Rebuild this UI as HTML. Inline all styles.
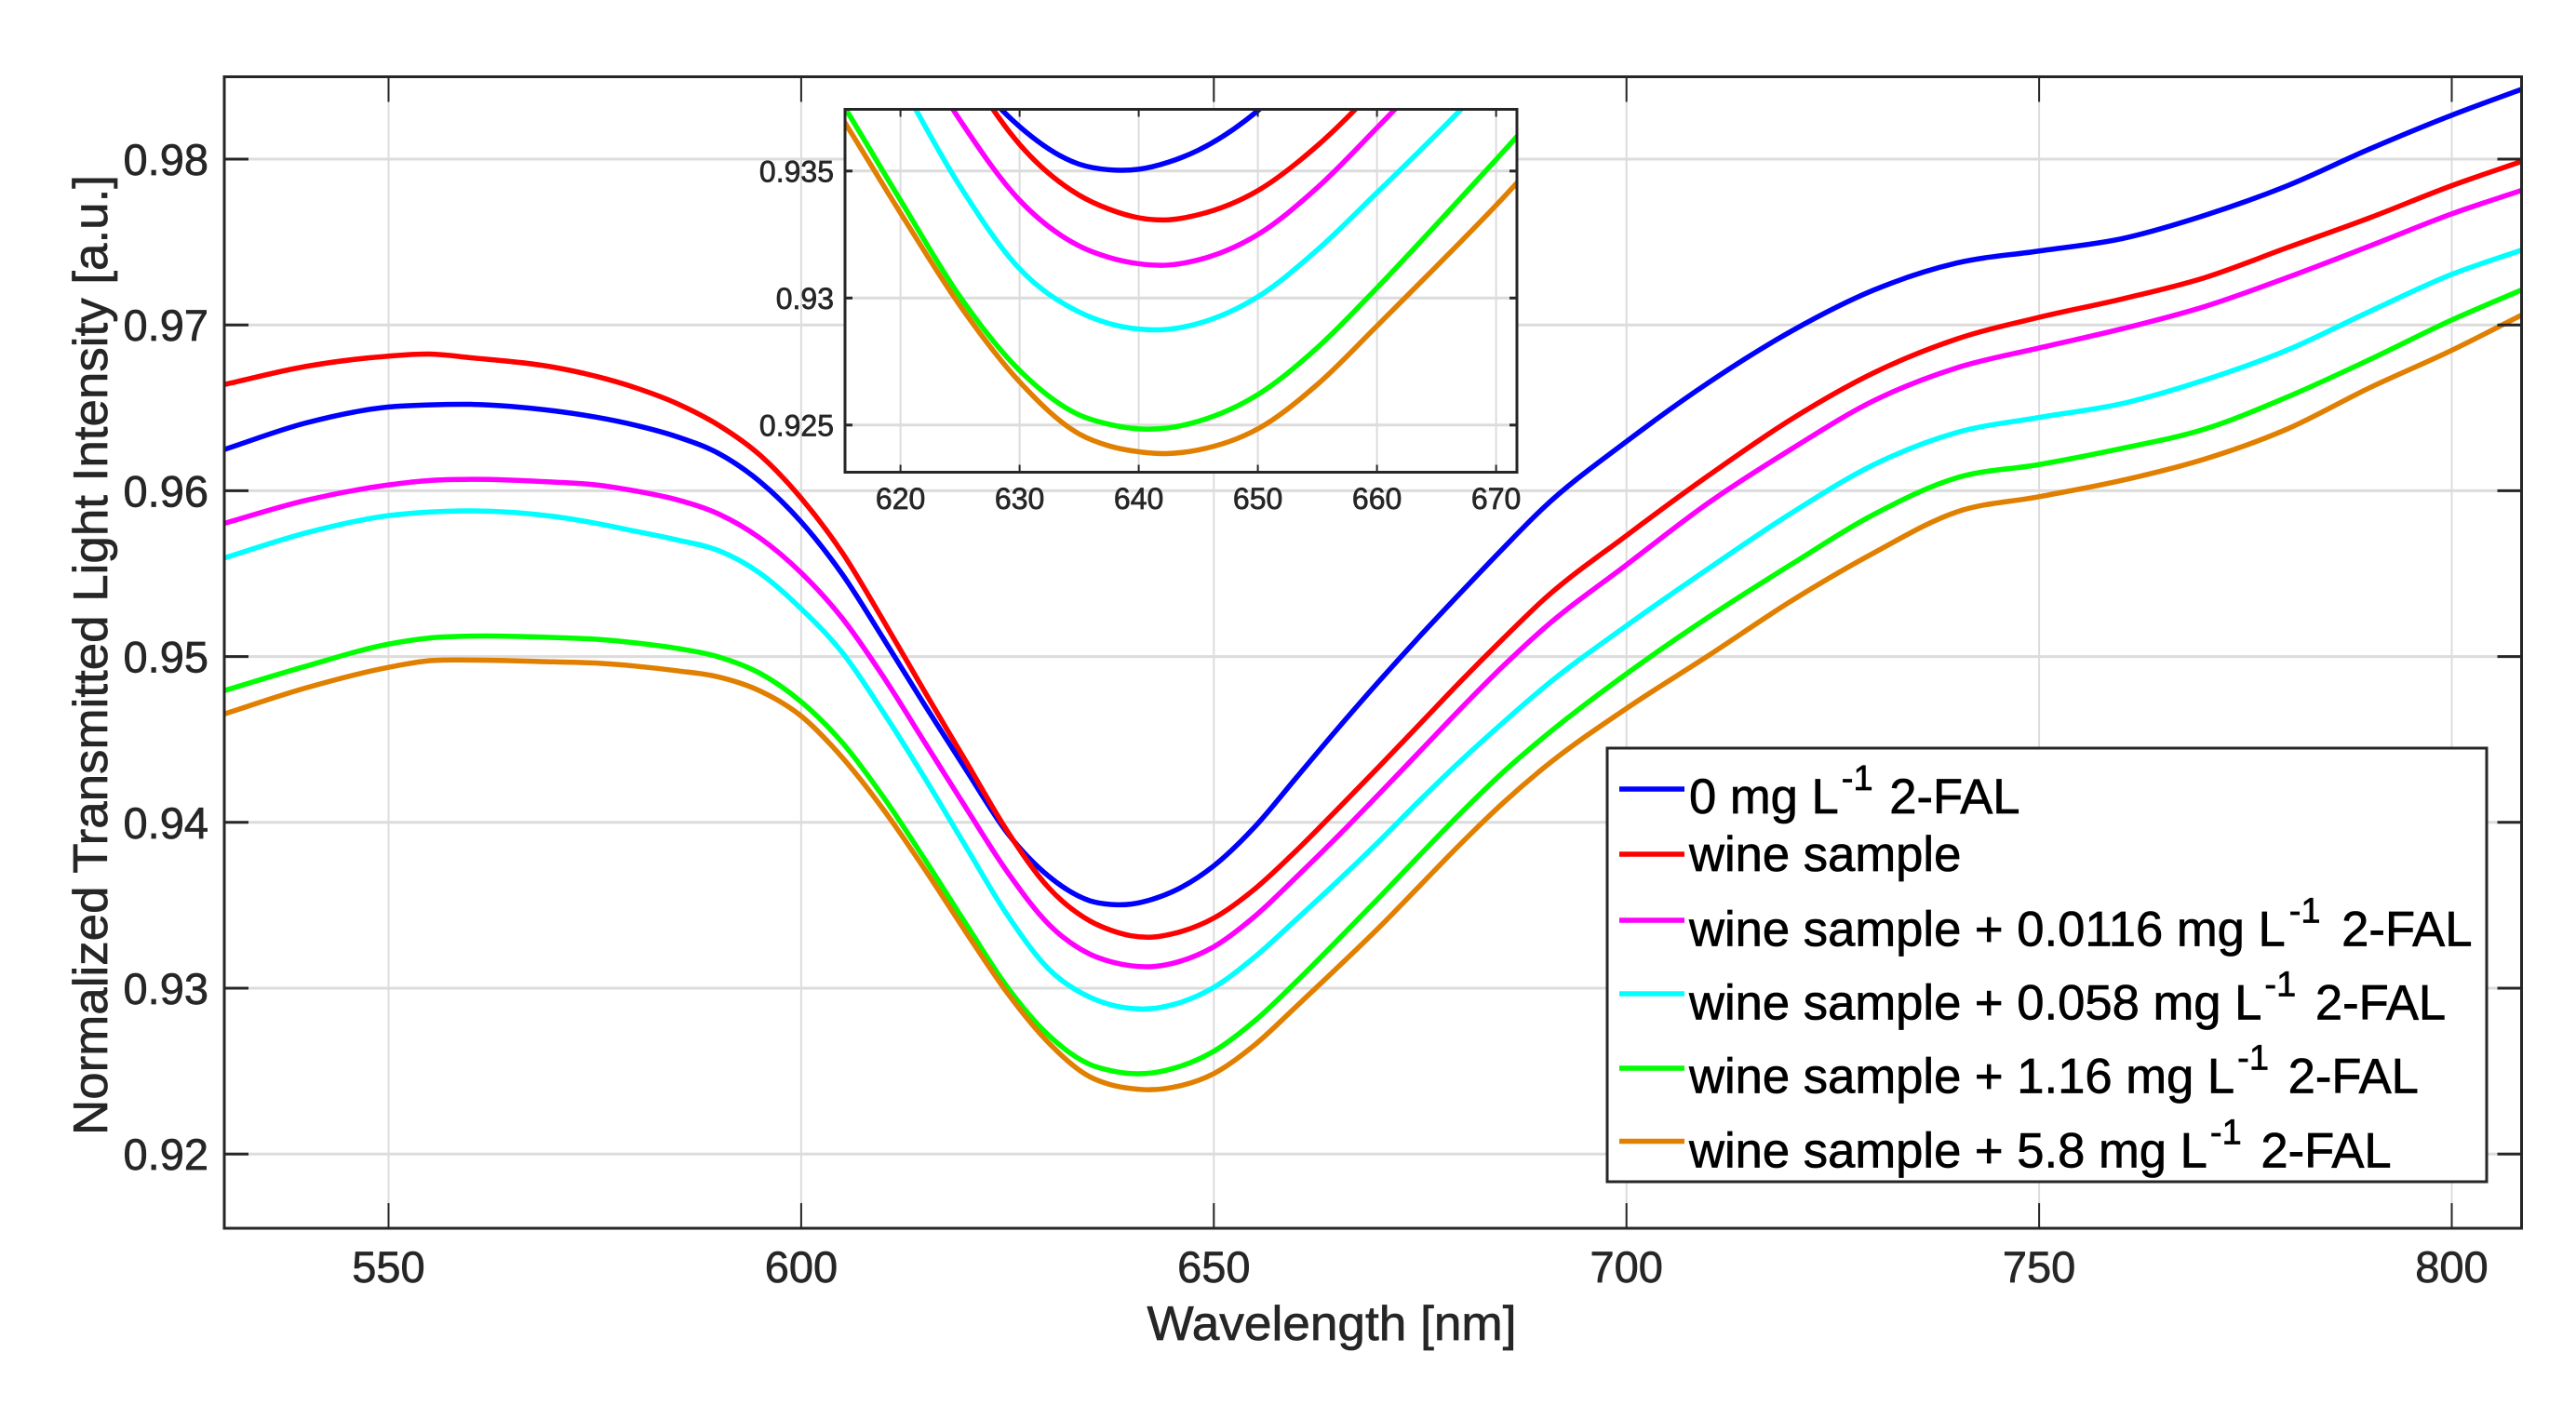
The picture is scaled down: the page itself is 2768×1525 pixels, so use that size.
<!DOCTYPE html>
<html lang="en">
<head>
<meta charset="utf-8">
<title>Normalized transmitted light intensity vs wavelength</title>
<style>
html,body{margin:0;padding:0;background:#fff;}
svg{display:block;font-family:"Liberation Sans",sans-serif;}
text{stroke:#262626;stroke-width:.7;}
.legend-text text{stroke:#000;}
</style>
</head>
<body>
<svg id="chart" xmlns="http://www.w3.org/2000/svg" width="2768" height="1525" viewBox="0 0 2768 1525">
  <defs>
    <clipPath id="main-clip"><rect x="241" y="82.5" width="2468.5" height="1237.5"/></clipPath>
    <clipPath id="inset-clip"><rect x="908" y="117.5" width="722" height="390"/></clipPath>
  </defs>
  <rect x="0" y="0" width="2768" height="1525" fill="#fff"/>
  <g id="main-grid"></g>
  <g id="main-series" clip-path="url(#main-clip)"></g>
  <g id="main-axes"></g>
  <text x="1431" y="1440" text-anchor="middle" font-size="52" fill="#262626" textLength="397" lengthAdjust="spacingAndGlyphs">Wavelength [nm]</text>
  <text transform="translate(115,704) rotate(-90)" text-anchor="middle" font-size="52" fill="#262626" textLength="1032" lengthAdjust="spacingAndGlyphs">Normalized Transmitted Light Intensity [a.u.]</text>

  <g>
    <rect x="908" y="117.5" width="722" height="390" fill="#fff"/>
    <g id="inset-grid"></g>
    <g id="inset-series" clip-path="url(#inset-clip)"></g>
    <g id="inset-axes"></g>
  </g>

  <g>
    <rect x="1727" y="804" width="945" height="466" fill="#fff" stroke="#262626" stroke-width="3"/>
    <line x1="1740" x2="1810" y1="848" y2="848" stroke="#0000ff" stroke-width="5.5"/>
    <line x1="1740" x2="1810" y1="918" y2="918" stroke="#ff0000" stroke-width="5.5"/>
    <line x1="1740" x2="1810" y1="989" y2="989" stroke="#ff00ff" stroke-width="5.5"/>
    <line x1="1740" x2="1810" y1="1068" y2="1068" stroke="#00ffff" stroke-width="5.5"/>
    <line x1="1740" x2="1810" y1="1148" y2="1148" stroke="#00ff00" stroke-width="5.5"/>
    <line x1="1740" x2="1810" y1="1226.5" y2="1226.5" stroke="#e07f00" stroke-width="5.5"/>
    <g class="legend-text" font-size="52.6" fill="#000">
      <text x="1815" y="874">0 mg L<tspan dx="3" dy="-25" font-size="38">-1</tspan><tspan dx="3" dy="25"> 2-FAL</tspan></text>
      <text x="1815" y="936">wine sample</text>
      <text x="1815" y="1016.5">wine sample + 0.0116 mg L<tspan dx="4" dy="-25" font-size="38">-1</tspan><tspan dx="8" dy="25"> 2-FAL</tspan></text>
      <text x="1815" y="1095.5">wine sample + 0.058 mg L<tspan dx="3" dy="-25" font-size="38">-1</tspan><tspan dx="6" dy="25"> 2-FAL</tspan></text>
      <text x="1815" y="1174.5">wine sample + 1.16 mg L<tspan dx="3" dy="-25" font-size="38">-1</tspan><tspan dx="6" dy="25"> 2-FAL</tspan></text>
      <text x="1815" y="1254.5">wine sample + 5.8 mg L<tspan dx="3" dy="-25" font-size="38">-1</tspan><tspan dx="6" dy="25"> 2-FAL</tspan></text>
    </g>
  </g>
</svg>
<script>
const wavelengths = [530,540,550,555,560,570,575,580,585,590,595,600,605,610,615,620,625,630,635,637.5,640,642.5,645,650,655,660,665,670,675,680,685,690,700,710,720,730,740,750,760,770,780,790,800,808.5];
const blueValues = [.96247,.96409,.96505,.96518,.96521,.96482,.96445,.96394,.96325,.96225,.96055,.95812,.95495,.95105,.94705,.94315,.93935,.93675,.93527,.93505,.93507,.93535,.93582,.93738,.93975,.9427,.94565,.9485,.95125,.9539,.9565,.959,.96297,.96654,.96963,.97211,.97373,.97446,.9752,.9766,.97838,.9806,.98265,.98422];
const redValues = [.96639,.9675,.96812,.96824,.96802,.96745,.96692,.9662,.96525,.96395,.96215,.95955,.95625,.95213,.94785,.94365,.93945,.93605,.93405,.9335,.93316,.93308,.93328,.93423,.936,.9383,.9408,.94335,.94595,.94855,.95105,.95345,.9573,.96094,.96432,.96712,.96915,.97046,.97156,.97284,.97465,.97645,.9784,.97987];
const magentaValues = [.95802,.95942,.96035,.96062,.96069,.96052,.96036,.95998,.95945,.9586,.95715,.95505,.9523,.94875,.9448,.94085,.937,.93385,.93205,.9316,.93135,.9313,.9315,.9325,.93435,.9367,.93915,.9417,.9443,.9469,.9494,.9517,.95553,.95929,.96252,.96544,.96741,.96861,.96976,.9711,.97285,.97475,.9767,.97812];
const cyanValues = [.95593,.95746,.9585,.95872,.95879,.95845,.95805,.95755,.95703,.95639,.95503,.95288,.95023,.9466,.94265,.9385,.9344,.93115,.92945,.929,.92878,.92877,.929,.93005,.9319,.93415,.93645,.93885,.94135,.94375,.946,.94815,.95186,.95533,.95866,.96158,.96351,.96442,.96525,.96667,.96847,.9708,.97305,.97452];
const greenValues = [.94793,.94942,.95075,.95112,.95123,.95115,.95105,.95082,.95049,.94998,.94899,.94727,.9448,.9415,.93775,.93385,.93005,.92715,.9254,.92503,.92485,.92489,.92515,.9262,.92805,.9304,.9329,.93545,.93805,.9406,.943,.94515,.94896,.9524,.95557,.95858,.96078,.96158,.96255,.96371,.96564,.9679,.9703,.97212];
const orangeValues = [.94652,.94811,.94935,.94975,.94979,.94968,.94961,.94942,.94914,.94877,.94793,.94641,.9439,.94075,.93715,.93335,.9297,.9267,.92465,.92418,.92395,.92388,.92402,.92485,.9266,.9289,.93125,.93365,.9362,.93875,.94115,.9433,.94687,.95008,.95336,.95626,.95872,.95964,.96062,.9619,.96371,.9662,.96847,.9706];
const seriesNames = ['0-mg','wine-sample','wine-0-0116','wine-0-058','wine-1-16','wine-5-8'];
const mainXTicks = [550,600,650,700,750,800];
const mainYTicks = [0.92,0.93,0.94,0.95,0.96,0.97,0.98];
const mainYLabels = ['0.92','0.93','0.94','0.95','0.96','0.97','0.98'];
const insetXTicks = [620,630,640,650,660,670];
const insetYTicks = [0.925,0.93,0.935];
const insetYLabels = ['0.925','0.93','0.935'];

const seriesValues = [blueValues, redValues, magentaValues, cyanValues, greenValues, orangeValues];
const seriesColors = ['#0000ff','#ff0000','#ff00ff','#00ffff','#00ff00','#e07f00'];
const NS = 'http://www.w3.org/2000/svg';

function mainX(w){ return 417.5 + (w - 550) * 8.868; }
function mainY(v){ return 171 + (0.98 - v) * 17820; }
function insetX(w){ return 1223.6 + (w - 640) * 12.8; }
function insetY(v){ return 320.3 + (0.93 - v) * 27300; }

function make(parent, tag, attrs, text){
  const el = document.createElementNS(NS, tag);
  for (const k in attrs) el.setAttribute(k, attrs[k]);
  if (text !== undefined) el.textContent = text;
  parent.appendChild(el);
  return el;
}

function curvePath(xs, ys, fx, fy){
  const n = xs.length;
  const px = xs.map(fx), py = ys.map(fy);
  const m = [];
  for (let i = 0; i < n; i++){
    if (i === 0) m.push((py[1]-py[0])/(px[1]-px[0]));
    else if (i === n-1) m.push((py[n-1]-py[n-2])/(px[n-1]-px[n-2]));
    else {
      const h0 = px[i]-px[i-1], h1 = px[i+1]-px[i];
      const d0 = (py[i]-py[i-1])/h0, d1 = (py[i+1]-py[i])/h1;
      m.push((d0*h1 + d1*h0)/(h0+h1));
    }
  }
  let d = 'M' + px[0].toFixed(2) + ' ' + py[0].toFixed(2);
  for (let i = 0; i < n-1; i++){
    const h = (px[i+1]-px[i])/3;
    d += ' C' + (px[i]+h).toFixed(2) + ' ' + (py[i]+m[i]*h).toFixed(2) + ' ' +
         (px[i+1]-h).toFixed(2) + ' ' + (py[i+1]-m[i+1]*h).toFixed(2) + ' ' +
         px[i+1].toFixed(2) + ' ' + py[i+1].toFixed(2);
  }
  return d;
}

function drawSeries(group, fx, fy, prefix){
  seriesValues.forEach(function(vals, i){
    const p = make(group, 'path', {d: curvePath(wavelengths, vals, fx, fy), fill:'none', stroke:seriesColors[i], 'stroke-width':5.5, 'stroke-linejoin':'round'});
    
    
  });
}

function drawAxes(o){
  const grid = o.grid, axes = o.axes, L = o.left, R = o.right, T = o.top, B = o.bottom;
  o.xTicks.forEach(function(w){
    const x = o.fx(w);
    const g = make(grid, 'line', {x1:x, x2:x, y1:T, y2:B, stroke:'#dcdcdc', 'stroke-width':o.vGrid});
    
    
    const t1 = make(axes, 'line', {x1:x, x2:x, y1:T, y2:T + o.xTickLen, stroke:'#262626', 'stroke-width':2});
    
    
    const t2 = make(axes, 'line', {x1:x, x2:x, y1:B, y2:B - o.xTickLen, stroke:'#262626', 'stroke-width':2});
    
    
    const lab = make(axes, 'text', {x:x, y:o.xLabelY, 'text-anchor':'middle', 'font-size':o.fontSize, fill:'#262626'}, String(w));
    
    
  });
  o.yTicks.forEach(function(v, i){
    const y = o.fy(v);
    const g = make(grid, 'line', {x1:L, x2:R, y1:y, y2:y, stroke:'#dcdcdc', 'stroke-width':o.hGrid});
    
    
    const t1 = make(axes, 'line', {x1:L, x2:L + o.yTickLen, y1:y, y2:y, stroke:'#262626', 'stroke-width':3});
    
    
    const t2 = make(axes, 'line', {x1:R, x2:R - o.yTickLen, y1:y, y2:y, stroke:'#262626', 'stroke-width':3});
    
    
    const lab = make(axes, 'text', {x:o.yLabelX, y:y + o.yLabelDy, 'text-anchor':'end', 'font-size':o.fontSize, fill:'#262626'}, o.yLabels[i]);
    
    
  });
  const frame = make(axes, 'rect', {x:L, y:T, width:R-L, height:B-T, fill:'none', stroke:'#262626', 'stroke-width':3});
  
  
}

drawAxes({
  grid: document.getElementById('main-grid'), axes: document.getElementById('main-axes'),
  left:241, right:2709.5, top:82.5, bottom:1320, fx:mainX, fy:mainY,
  xTicks:mainXTicks, yTicks:mainYTicks, yLabels:mainYLabels,
  xTickLen:27, yTickLen:26, xLabelY:1378, yLabelX:224, yLabelDy:17, fontSize:47,
  vGrid:2, hGrid:3, prefix:'main'
});
drawSeries(document.getElementById('main-series'), mainX, mainY, 'main');

drawAxes({
  grid: document.getElementById('inset-grid'), axes: document.getElementById('inset-axes'),
  left:908, right:1630, top:117.5, bottom:507.5, fx:insetX, fy:insetY,
  xTicks:insetXTicks, yTicks:insetYTicks, yLabels:insetYLabels,
  xTickLen:8, yTickLen:8, xLabelY:547, yLabelX:896, yLabelDy:11.5, fontSize:32,
  vGrid:2, hGrid:3, prefix:'inset'
});
drawSeries(document.getElementById('inset-series'), insetX, insetY, 'inset');
</script>
</body>
</html>
